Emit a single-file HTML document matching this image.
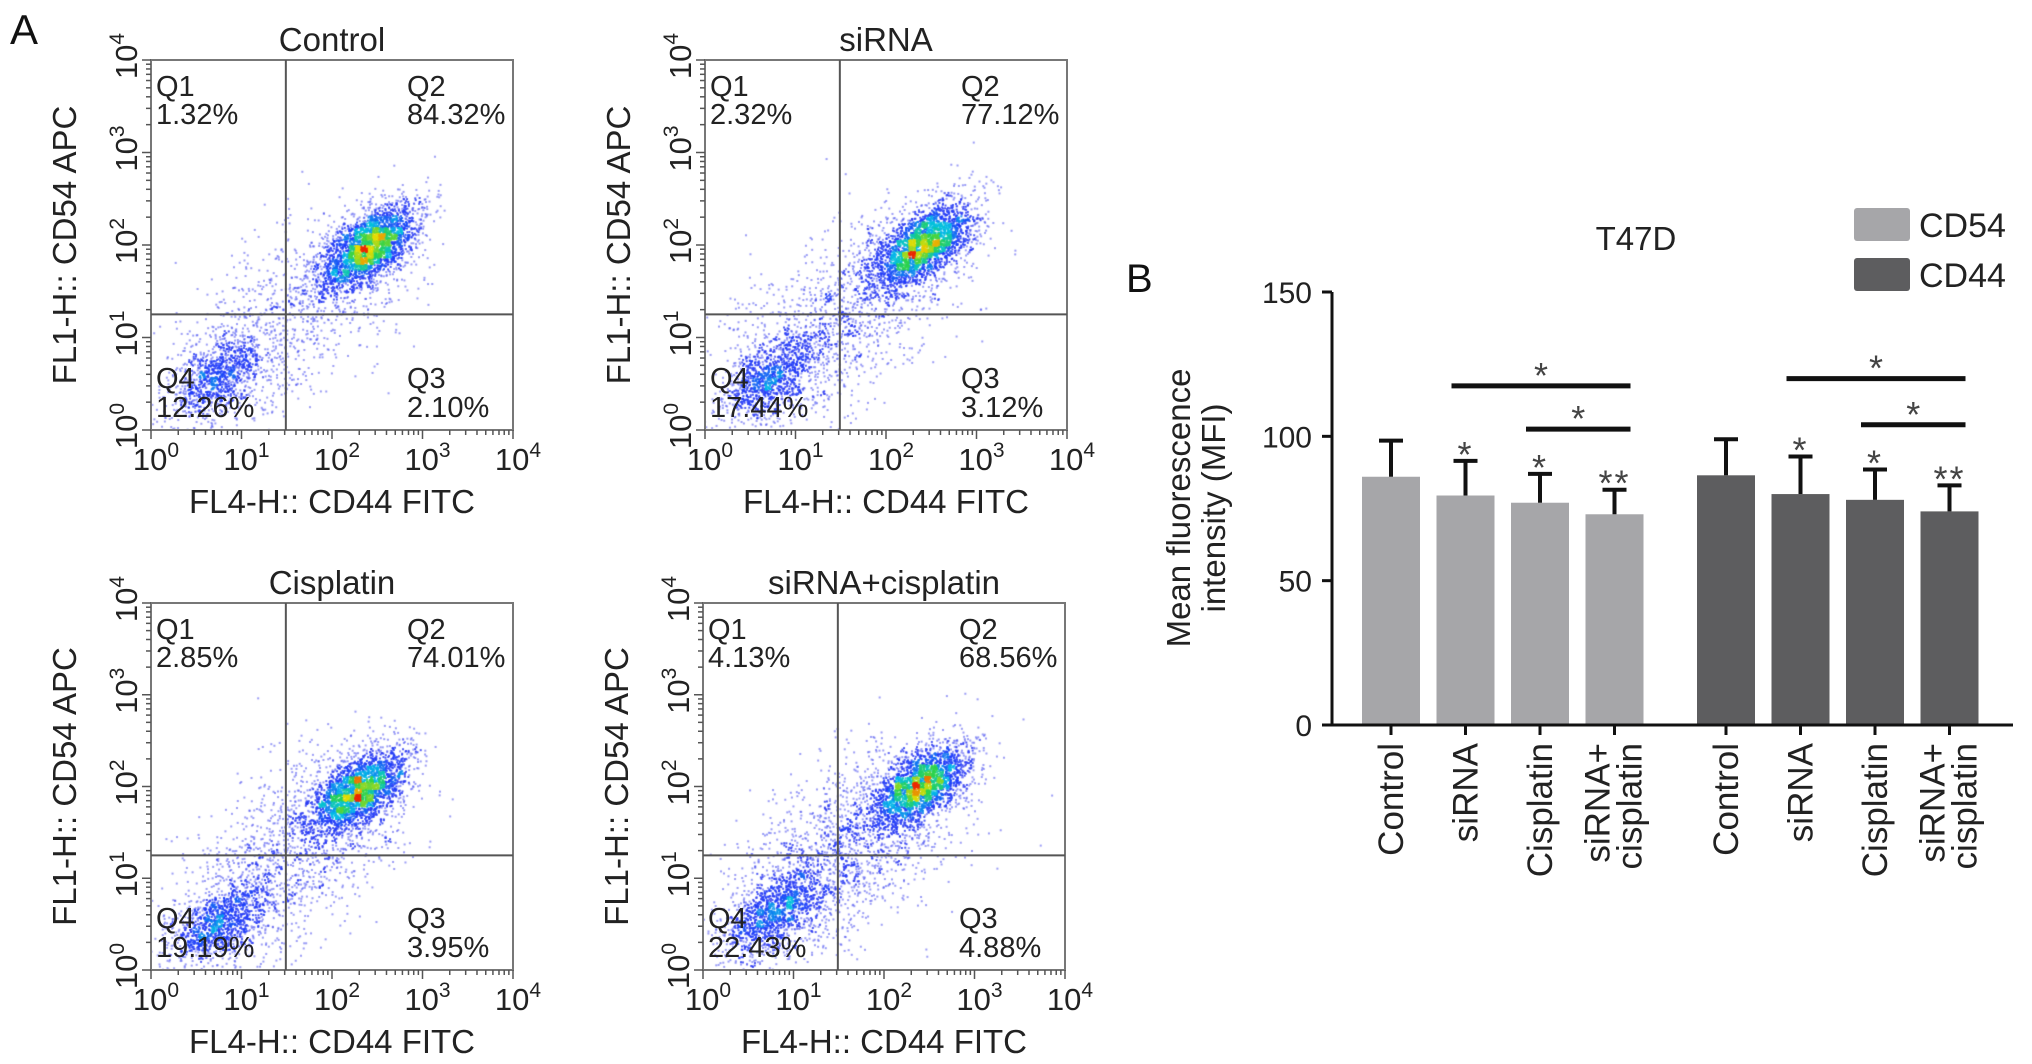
<!DOCTYPE html>
<html><head><meta charset="utf-8"><style>
html,body{margin:0;padding:0;background:#fff;}
#root{position:relative;width:2032px;height:1064px;overflow:hidden;font-family:"Liberation Sans",Arial,sans-serif;}
canvas{position:absolute;}
svg{position:absolute;left:0;top:0;}
</style></head><body>
<div id="root">
<svg id="svg" width="2032" height="1064"></svg>
</div>
<script>
// ---------- Panel B data ----------
const categories = ["Control","siRNA","Cisplatin","siRNA+ cisplatin"];
const seriesNames = ["CD54","CD44"];
const cd54Values = [86, 79.5, 77, 73];
const cd54ErrTop = [98.5, 91.5, 87, 81.5];
const cd44Values = [86.5, 80, 78, 74];
const cd44ErrTop = [99, 93, 88.5, 83];
const yTicks = [0, 50, 100, 150];
const cd54Stars = ["", "*", "*", "**"];
const cd44Stars = ["", "*", "*", "**"];
const cd54Brackets = [[1,3,117.5],[2,3,102.5]];
const cd44Brackets = [[1,3,120],[2,3,104]];

// ---------- Panel A data ----------
const flowTitles = ["Control","siRNA","Cisplatin","siRNA+cisplatin"];
const q1Pct = ["1.32%","2.32%","2.85%","4.13%"];
const q2Pct = ["84.32%","77.12%","74.01%","68.56%"];
const q3Pct = ["2.10%","3.12%","3.95%","4.88%"];
const q4Pct = ["12.26%","17.44%","19.19%","22.43%"];
const logTicks = [0,1,2,3,4];

const NS="http://www.w3.org/2000/svg";
const svg=document.getElementById('svg');
function el(tag,attrs,parent){const e=document.createElementNS(NS,tag);for(const k in attrs)e.setAttribute(k,attrs[k]);(parent||svg).appendChild(e);return e;}
function txt(str,attrs,parent){const t=el('text',attrs,parent);t.textContent=str;return t;}

let seed=12345;
function rnd(){seed=(seed*1664525+1013904223)>>>0;return seed/4294967296;}
function gauss(){let u=rnd()||1e-9,v=rnd();return Math.sqrt(-2*Math.log(u))*Math.cos(2*Math.PI*v);}

// ---------- Panel A ----------
const A=txt('A',{x:10,y:44,'font-size':42,fill:'#111'});


const layout=[[151,60,370],[705,60,370],[151,603,367],[703,603,367]];
const pops=[
 {main:[2.42,1.98],low:[0.72,0.55],nm:2600,nl:900,nd:1100},
 {main:[2.42,2.0],low:[0.72,0.55],nm:2400,nl:1000,nd:1400},
 {main:[2.3,1.95],low:[0.75,0.5],nm:2300,nl:1000,nd:1500},
 {main:[2.4,2.0],low:[0.78,0.6],nm:2200,nl:1100,nd:1800}
];
const W=362;
function ramp(t){
 const stops=[[0,[60,60,235]],[0.35,[30,60,250]],[0.55,[0,190,230]],[0.7,[40,210,80]],[0.85,[230,220,0]],[1,[235,40,0]]];
 for(let i=1;i<stops.length;i++){if(t<=stops[i][0]){const a=stops[i-1],b=stops[i];const f=(t-a[0])/(b[0]-a[0]);return a[1].map((c,j)=>Math.round(c+(b[1][j]-c)*f));}}
 return stops[stops.length-1][1];
}
layout.forEach((L,p)=>{
 const [ox,oy,H]=L;
 const g=el('g',{});
 
 
 const xs=v=>ox+v/4*W, ys=v=>oy+H-v/4*H;
 const cv=document.createElement('canvas');cv.width=W;cv.height=H;cv.style.left=ox+'px';cv.style.top=oy+'px';
 
 
 document.getElementById('root').insertBefore(cv,svg);
 const ctx=cv.getContext('2d');
 const P=pops[p],pts=[];
 for(let i=0;i<P.nm;i++){const a=gauss()*0.32,b=gauss()*0.16;pts.push([P.main[0]+a*0.8-b*0.6,P.main[1]+a*0.6+b*0.8]);}
 for(let i=0;i<P.nl;i++){const a=gauss()*0.32,b=gauss()*0.17;pts.push([P.low[0]+a*0.8-b*0.6,P.low[1]+a*0.6+b*0.8]);}
 for(let i=0;i<P.nd;i++){const t=rnd();const x=P.low[0]+(P.main[0]-P.low[0])*t+gauss()*0.4;const y=P.low[1]+(P.main[1]-P.low[1])*t+gauss()*0.4;pts.push([x,y]);}
 const gs=6,gw=Math.ceil(W/gs),gh=Math.ceil(H/gs),grid=new Float32Array(gw*gh);
 const pix=pts.map(q=>[q[0]/4*W,H-q[1]/4*H]).filter(q=>q[0]>=0&&q[0]<W&&q[1]>=0&&q[1]<H);
 pix.forEach(q=>{grid[Math.floor(q[1]/gs)*gw+Math.floor(q[0]/gs)]++;});
 let mx=0;for(const v of grid)mx=Math.max(mx,v);
 pix.sort((a,b)=>grid[Math.floor(a[1]/gs)*gw+Math.floor(a[0]/gs)]-grid[Math.floor(b[1]/gs)*gw+Math.floor(b[0]/gs)]);
 pix.forEach(q=>{const d=grid[Math.floor(q[1]/gs)*gw+Math.floor(q[0]/gs)]/mx;const c=ramp(Math.pow(d,0.9));
  ctx.fillStyle=`rgba(${c[0]},${c[1]},${c[2]},${d<0.12?0.5:0.85})`;ctx.fillRect(q[0]-1,q[1]-1,2,2);});
 el('rect',{x:ox,y:oy,width:W,height:H,fill:'none',stroke:'#777','stroke-width':2},g);
 const gx=xs(1.49),gy=ys(1.25);
 el('line',{x1:gx,y1:oy,x2:gx,y2:oy+H,stroke:'#555','stroke-width':2},g);
 el('line',{x1:ox,y1:gy,x2:ox+W,y2:gy,stroke:'#555','stroke-width':2},g);
 for(let d=0;d<4;d++){for(let m=1;m<10;m++){const v=d+Math.log10(m);const len=m===1?9:5;
   el('line',{x1:xs(v),y1:oy+H,x2:xs(v),y2:oy+H+len,stroke:'#555','stroke-width':1.5},g);
   el('line',{x1:ox,y1:ys(v),x2:ox-len,y2:ys(v),stroke:'#555','stroke-width':1.5},g);}}
 el('line',{x1:xs(4),y1:oy+H,x2:xs(4),y2:oy+H+9,stroke:'#555','stroke-width':1.5},g);
 el('line',{x1:ox,y1:ys(4),x2:ox-9,y2:ys(4),stroke:'#555','stroke-width':1.5},g);
 logTicks.forEach(k=>{
  const t=txt('',{x:xs(k)+5,y:oy+H+40,'font-size':31,'text-anchor':'middle',fill:'#222'},g);
  t.innerHTML='10<tspan dy="-13" font-size="21">'+k+'</tspan>';
  const t2=txt('',{x:0,y:0,'font-size':31,'text-anchor':'middle',fill:'#222',transform:`translate(${ox-14},${ys(k)-4}) rotate(-90)`},g);
  t2.innerHTML='10<tspan dy="-13" font-size="21">'+k+'</tspan>';
 });
 txt(flowTitles[p],{x:ox+W/2,y:oy-9,'font-size':33,'text-anchor':'middle',fill:'#222'},g);
 txt('FL4-H:: CD44 FITC',{x:ox+W/2,y:oy+H+83,'font-size':33,'text-anchor':'middle',fill:'#222'},g);
 txt('FL1-H:: CD54 APC',{x:0,y:0,'font-size':33,'text-anchor':'middle',fill:'#222',transform:`translate(${ox-75},${oy+H/2}) rotate(-90)`},g);
 const fs=29;
 txt('Q1',{x:ox+5,y:oy+36,'font-size':fs,fill:'#222'},g);
 txt(q1Pct[p],{x:ox+5,y:oy+64,'font-size':fs,fill:'#222'},g);
 txt('Q2',{x:ox+256,y:oy+36,'font-size':fs,fill:'#222'},g);
 txt(q2Pct[p],{x:ox+256,y:oy+64,'font-size':fs,fill:'#222'},g);
 txt('Q4',{x:ox+5,y:oy+H-42,'font-size':fs,fill:'#222'},g);
 txt(q4Pct[p],{x:ox+5,y:oy+H-13,'font-size':fs,fill:'#222'},g);
 txt('Q3',{x:ox+256,y:oy+H-42,'font-size':fs,fill:'#222'},g);
 txt(q3Pct[p],{x:ox+256,y:oy+H-13,'font-size':fs,fill:'#222'},g);
});

// ---------- Panel B ----------
const B=txt('B',{x:1126,y:292,'font-size':40,fill:'#111'});

const gB=el('g',{});


const x0=1332,y0=725,yTop=292,xEnd=2013;
const yScale=v=>y0-(v/150)*(y0-yTop);
const groupStart=[1391,1726],step=74.5,bw=58;
const xPos=(g,i)=>groupStart[g]+i*step;
const colors=['#a6a6a9','#5d5d5f'];
[[cd54Values,cd54ErrTop,cd54Stars,cd54Brackets],[cd44Values,cd44ErrTop,cd44Stars,cd44Brackets]].forEach((S,g)=>{
 const [vals,errs,stars,brk]=S;
 vals.forEach((v,i)=>{
  const cx=xPos(g,i);
  const r=el('rect',{x:cx-bw/2,y:yScale(v),width:bw,height:y0-yScale(v),fill:colors[g]},gB);
  
  
  el('line',{x1:cx,y1:yScale(v),x2:cx,y2:yScale(errs[i]),stroke:'#111','stroke-width':4},gB);
  el('line',{x1:cx-12,y1:yScale(errs[i]),x2:cx+12,y2:yScale(errs[i]),stroke:'#111','stroke-width':4},gB);
  if(stars[i])txt(stars[i],{x:cx,y:yScale(errs[i])+6,'font-size':36,'text-anchor':'middle',fill:'#444','letter-spacing':2},gB);
  const lab=categories[i].split(' ');
  const tg=el('g',{transform:`translate(${cx},${y0+18}) rotate(-90)`},gB);
  if(lab.length===1)txt(lab[0],{x:0,y:12,'font-size':35,'text-anchor':'end',fill:'#222'},tg);
  else{txt(lab[0],{x:0,y:-5,'font-size':35,'text-anchor':'end',fill:'#222'},tg);txt(lab[1],{x:0,y:27,'font-size':35,'text-anchor':'end',fill:'#222'},tg);}
  el('line',{x1:cx,y1:y0,x2:cx,y2:y0+10,stroke:'#111','stroke-width':3},gB);
 });
 brk.forEach(b=>{
  const xa=xPos(g,b[0])-14,xb=xPos(g,b[1])+16,yy=yScale(b[2]);
  el('line',{x1:xa,y1:yy,x2:xb,y2:yy,stroke:'#111','stroke-width':5},gB);
  txt('*',{x:(xa+xb)/2,y:yy+2,'font-size':36,'text-anchor':'middle',fill:'#444'},gB);
 });
});
el('line',{x1:x0,y1:yTop,x2:x0,y2:y0,stroke:'#111','stroke-width':3},gB);
el('line',{x1:x0,y1:y0,x2:xEnd,y2:y0,stroke:'#111','stroke-width':3},gB);
yTicks.forEach(t=>{
 el('line',{x1:x0-10,y1:yScale(t),x2:x0,y2:yScale(t),stroke:'#111','stroke-width':3},gB);
 txt(String(t),{x:x0-20,y:yScale(t)+11,'font-size':30,'text-anchor':'end',fill:'#222'},gB);
});
const yt=el('g',{transform:'translate(1196,508) rotate(-90)'},gB);

txt('Mean fluorescence',{x:0,y:-6,'font-size':33,'text-anchor':'middle',fill:'#222'},yt);
txt('intensity (MFI)',{x:0,y:29,'font-size':33,'text-anchor':'middle',fill:'#222'},yt);
txt('T47D',{x:1636,y:250,'font-size':33,'text-anchor':'middle',fill:'#222'},gB);
seriesNames.forEach((n,i)=>{
 const lg=el('g',{},gB);
 
 
 el('rect',{x:1854,y:208+i*50,width:56,height:33,rx:3,fill:colors[i]},lg);
 txt(n,{x:1919,y:237+i*50,'font-size':34,fill:'#222'},lg);
});
</script>
</body></html>
